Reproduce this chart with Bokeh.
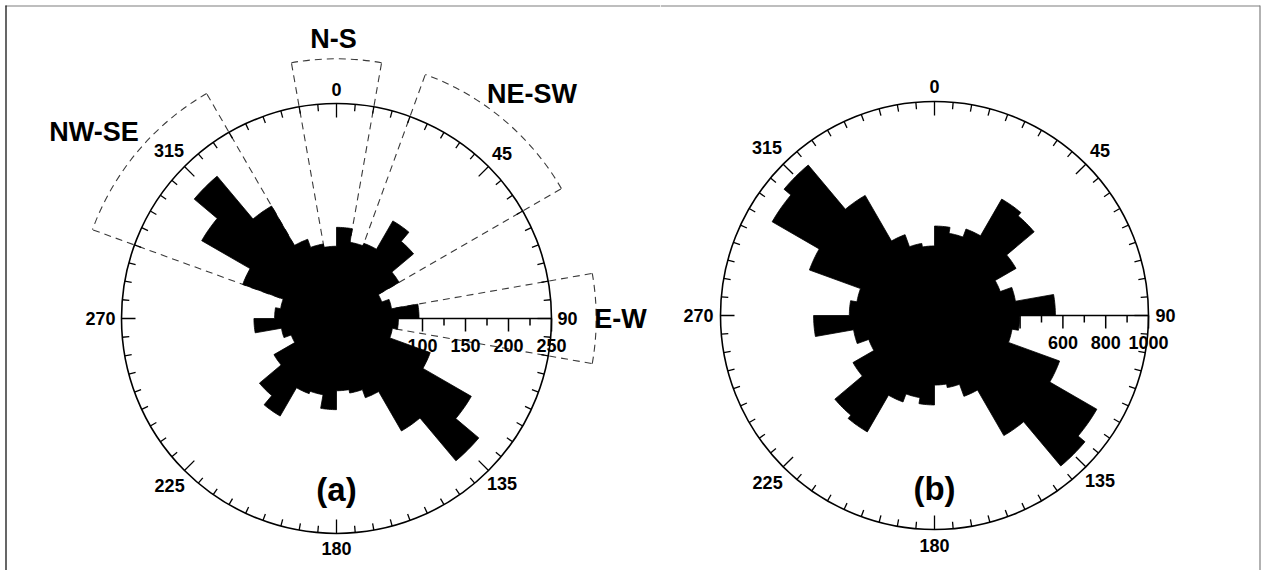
import numpy as np
from bokeh.plotting import figure
from bokeh.layouts import row
from bokeh.models import Range1d
from bokeh.core.properties import value
from bokeh.embed import file_html
from bokeh.resources import INLINE

# ---------------- data ----------------
bin_starts = list(range(0, 180, 10))          # compass degrees, axial data (mirrored +180)
bin_width = 10
counts_a = [106, 90, 93, 131, 117, 84, 56, 65, 96, 72, 66, 116, 181, 216, 151, 98, 88, 84]
counts_b = [418, 390, 430, 628, 608, 440, 327, 384, 565, 398, 368, 622, 876, 918, 648, 402, 342, 325]
dir_labels = [0, 45, 90, 135, 180, 225, 270, 315]
radial_ticks_a = [100, 125, 150, 175, 200, 225, 250]
radial_labels_a = [100, 150, 200, 250]
radial_ticks_b = [400, 500, 600, 700, 800, 900, 1000]
radial_labels_b = [600, 800, 1000]
max_a = 250
max_b = 1000
sector_names = ["N-S", "NE-SW", "E-W", "NW-SE"]
sector_from = [-10, 20, 80, 290]
sector_to = [10, 60, 100, 330]
sector_extent = 302
panel_names = ["(a)", "(b)"]

FONT = value("Liberation Sans")
W_TOTAL, H = 1262, 570
SPLIT = 660


def m(theta):
    """compass degrees -> math radians"""
    return np.radians(90.0 - np.asarray(theta, dtype=float))


def make_panel(cx, cy, k, xs0, xs1):
    p = figure(width=xs1 - xs0, height=H, output_backend="svg", toolbar_location=None,
               x_range=Range1d((xs0 - cx) / k, (xs1 - cx) / k),
               y_range=Range1d((cy - H) / k, (cy - 0) / k),
               x_axis_type=None, y_axis_type=None,
               min_border=0, min_border_left=0, min_border_right=0,
               min_border_top=0, min_border_bottom=0)
    p.outline_line_color = None
    p.background_fill_color = "white"
    p.border_fill_color = "white"
    return p


def rose_outline(counts, samples=9):
    full = list(counts) + list(counts)
    th_all, r_all = [], []
    for i, r in enumerate(full):
        t0 = i * bin_width
        th_all.extend(np.linspace(t0, t0 + bin_width, samples))
        r_all.extend([r] * samples)
    a = m(np.array(th_all))
    r_all = np.array(r_all, dtype=float)
    return r_all * np.cos(a), r_all * np.sin(a)


def draw_rose(p, counts, rmax, k, radial_ticks, radial_labels, major_step, tag, tag_y_px):
    # radial axis along 90 degrees with ticks below
    p.segment(x0=[0], y0=[0], x1=[rmax], y1=[0], line_color="black", line_width=1.5)
    rt = np.array(radial_ticks, dtype=float)
    tl = np.where(rt % major_step == 0, 13.0, 7.0) / k
    p.segment(x0=rt, y0=np.zeros_like(rt), x1=rt, y1=-tl, line_color="black", line_width=1.5)

    # petals as one outline polygon (axial data: theta and theta+180)
    px, py = rose_outline(counts)
    p.patch(x=px, y=py, fill_color="black", line_color="black", line_width=0.8)

    # outer circle and direction ticks
    p.arc(x=0, y=0, radius=rmax, start_angle=0, end_angle=2 * np.pi,
          line_color="black", line_width=1.6)
    deg = np.arange(0, 360, 5, dtype=float)
    ln = np.where(deg % 45 == 0, 14.0, 7.0) / k
    a = m(deg)
    p.segment(x0=rmax * np.cos(a), y0=rmax * np.sin(a),
              x1=(rmax - ln) * np.cos(a), y1=(rmax - ln) * np.sin(a),
              line_color="black", line_width=1.3)

    # direction labels
    lr = {0: 229, 45: 234, 90: 231, 135: 234, 180: 230, 225: 236, 270: 236, 315: 237}
    d = np.array(dir_labels, dtype=float)
    rr = np.array([lr[int(v)] for v in dir_labels]) / k
    p.text(x=rr * np.cos(m(d)), y=rr * np.sin(m(d)), text=[str(v) for v in dir_labels],
           text_font=FONT, text_font_style="bold", text_font_size="18px",
           text_align="center", text_baseline="middle", text_color="black")

    # radial labels
    rl = np.array(radial_labels, dtype=float)
    p.text(x=rl, y=np.full_like(rl, -27.0 / k), text=[str(v) for v in radial_labels],
           text_font=FONT, text_font_style="bold", text_font_size="18px",
           text_align="center", text_baseline="middle", text_color="black")

    # panel tag
    p.text(x=[0], y=[tag_y_px / k], text=[tag], text_font=FONT, text_font_style="bold",
           text_font_size="33px", text_align="center", text_baseline="middle",
           text_color="black")


# ---------------- panel (a) ----------------
cxa, cya, ka = 336.0, 318.0, 215.0 / max_a
pa = make_panel(cxa, cya, ka, 0, SPLIT)

# dashed direction sectors (drawn beneath the petals)
xs, ys = [], []
for f, t in zip(sector_from, sector_to):
    for th in (f, t):
        xs.append([0, sector_extent * np.cos(m(th))])
        ys.append([0, sector_extent * np.sin(m(th))])
pa.multi_line(xs=xs, ys=ys, line_color="#3a3a3a", line_width=1.1, line_dash="7 5")
pa.arc(x=0, y=0, radius=sector_extent,
       start_angle=m(np.array(sector_to)), end_angle=m(np.array(sector_from)),
       line_color="#3a3a3a", line_width=1.1, line_dash="7 5")

draw_rose(pa, counts_a, max_a, ka, radial_ticks_a, radial_labels_a, 50, panel_names[0], -171.0)

# sector names
lab_r = {"N-S": 280, "NE-SW": 298, "E-W": 284, "NW-SE": 306}
lab_t = {"N-S": -0.6, "NE-SW": 41, "E-W": 90, "NW-SE": 307.6}
sx = [lab_r[n] / ka * np.cos(m(lab_t[n])) for n in sector_names]
sy = [lab_r[n] / ka * np.sin(m(lab_t[n])) for n in sector_names]
pa.text(x=sx, y=sy, text=sector_names, text_font=FONT, text_font_style="bold",
        text_font_size="27px", text_align="center", text_baseline="middle", text_color="black")

# frame (top grey, left black)
pa.segment(x0=[(5 - cxa) / ka], y0=[(cya - 5.5) / ka], x1=[(SPLIT - cxa) / ka], y1=[(cya - 5.5) / ka],
           line_color="#7f7f7f", line_width=1.2)
pa.segment(x0=[(5.5 - cxa) / ka], y0=[(cya - 5) / ka], x1=[(5.5 - cxa) / ka], y1=[(cya - H) / ka],
           line_color="black", line_width=1.2)

# ---------------- panel (b) ----------------
cxb, cyb, kb = 934.0, 315.0, 214.0 / max_b
pb = make_panel(cxb, cyb, kb, SPLIT, W_TOTAL)
draw_rose(pb, counts_b, max_b, kb, radial_ticks_b, radial_labels_b, 200, panel_names[1], -173.0)
pb.segment(x0=[(SPLIT - cxb) / kb], y0=[(cyb - 5.5) / kb], x1=[(1259.5 - cxb) / kb], y1=[(cyb - 5.5) / kb],
           line_color="#7f7f7f", line_width=1.2)
pb.segment(x0=[(1259.5 - cxb) / kb], y0=[(cyb - 5) / kb], x1=[(1259.5 - cxb) / kb], y1=[(cyb - H) / kb],
           line_color="#7f7f7f", line_width=1.2)

layout = row(pa, pb)
open("out.html", "w").write(file_html(layout, INLINE))
